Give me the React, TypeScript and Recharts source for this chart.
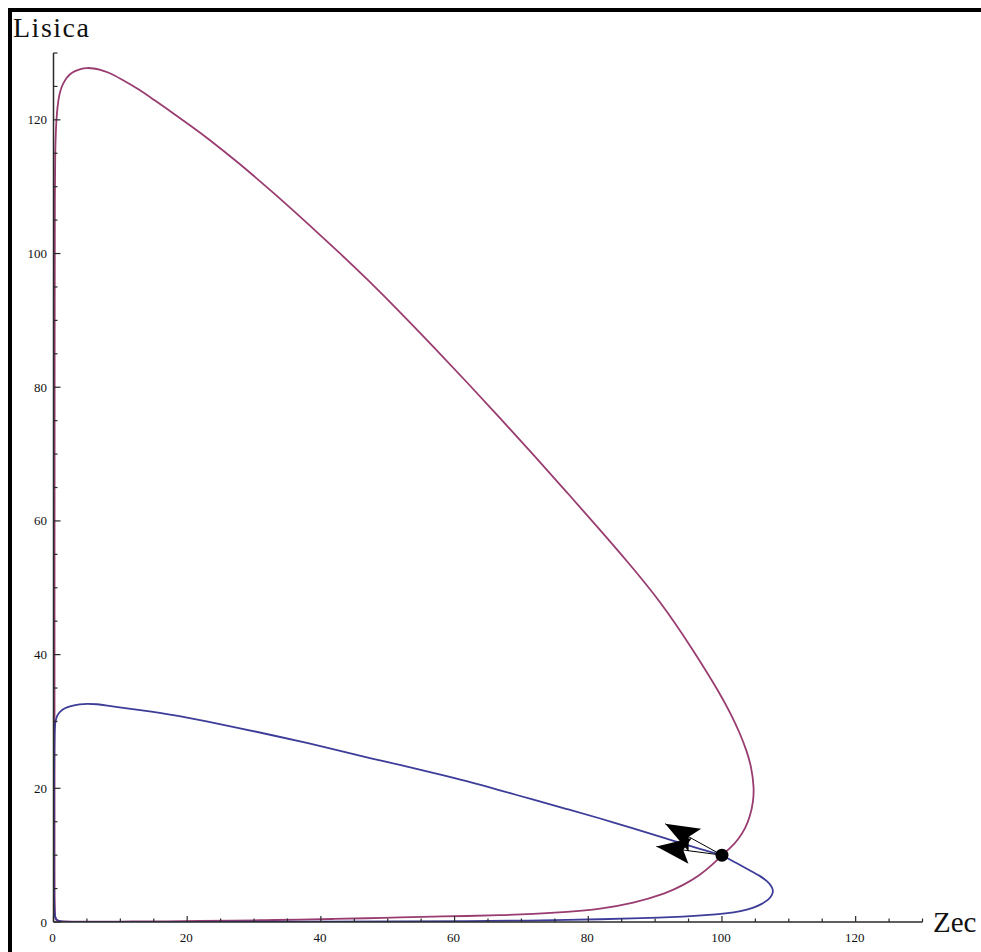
import {
  ComposedChart,
  Line,
  Scatter,
  XAxis,
  YAxis,
  Label,
} from "recharts";

// Phase portrait: foxes (Lisica) against rabbits (Zec), two orbits
// through the starting state (100, 10).

const AXIS_TICKS = [0, 5, 10, 15, 20, 25, 30, 35, 40, 45, 50, 55, 60, 65, 70, 75, 80, 85, 90, 95, 100, 105, 110, 115, 120, 125, 130];
const MAJOR_STEP = 20;
const LABEL_MAX = 120;

// big orbit (red)
const redOrbit = [
  { x: 100, y: 10 }, { x: 98.5, y: 8.5 }, { x: 96.7, y: 7.0 }, { x: 94.2, y: 5.5 },
  { x: 91.7, y: 4.3 }, { x: 86.7, y: 2.8 },
  { x: 81.8, y: 1.95 }, { x: 76.8, y: 1.5 }, { x: 71.8, y: 1.2 }, { x: 66.8, y: 1.0 },
  { x: 61.8, y: 0.9 }, { x: 56.8, y: 0.8 }, { x: 51.8, y: 0.7 }, { x: 46.8, y: 0.55 },
  { x: 41.8, y: 0.45 }, { x: 36.8, y: 0.35 }, { x: 31.8, y: 0.28 }, { x: 26.8, y: 0.2 },
  { x: 21.8, y: 0.15 }, { x: 16.8, y: 0.1 }, { x: 11.8, y: 0.07 }, { x: 6, y: 0.05 },
  { x: 2, y: 0.05 }, { x: 0.5, y: 0.1 }, { x: 0.2, y: 0.5 }, { x: 0.15, y: 3 },
  { x: 0.15, y: 40 }, { x: 0.17, y: 90 }, { x: 0.2, y: 110 }, { x: 0.25, y: 115 },
  { x: 0.35, y: 118.5 }, { x: 0.5, y: 121 }, { x: 0.72, y: 123 }, { x: 1.0, y: 124.3 },
  { x: 1.4, y: 125.4 }, { x: 1.97, y: 126.3 }, { x: 2.5, y: 126.9 }, { x: 3.2, y: 127.3 },
  { x: 4.0, y: 127.6 }, { x: 5.0, y: 127.8 }, { x: 6.0, y: 127.7 }, { x: 7.0, y: 127.5 },
  { x: 8.0, y: 127.2 }, { x: 10, y: 126.2 }, { x: 12.9, y: 124.5 }, { x: 15, y: 123.0 },
  { x: 17.9, y: 121 }, { x: 20.4, y: 119.2 }, { x: 22.9, y: 117.4 }, { x: 27.9, y: 113.4 },
  { x: 32.9, y: 109.1 }, { x: 37.9, y: 104.6 }, { x: 42.9, y: 100 }, { x: 46.9, y: 96.2 },
  { x: 51.8, y: 91.3 }, { x: 56.8, y: 86.1 }, { x: 61.8, y: 80.8 }, { x: 66.8, y: 75.4 },
  { x: 71.8, y: 69.9 }, { x: 76.8, y: 64.3 }, { x: 81.8, y: 58.6 }, { x: 85.7, y: 54.1 },
  { x: 90.7, y: 48.1 }, { x: 95.7, y: 40.7 }, { x: 99.7, y: 34.2 }, { x: 101.4, y: 31 },
  { x: 102.7, y: 28.2 }, { x: 103.7, y: 25.6 }, { x: 104.4, y: 23.2 }, { x: 104.8, y: 20.2 },
  { x: 104.7, y: 18 }, { x: 104.2, y: 15.8 }, { x: 103.5, y: 14 }, { x: 102.4, y: 12.3 },
  { x: 101.3, y: 11.1 }, { x: 100, y: 10 },
];

// small orbit (blue)
const blueOrbit = [
  { x: 100, y: 10 }, { x: 102.2, y: 8.8 }, { x: 104.2, y: 7.7 }, { x: 105.7, y: 6.9 },
  { x: 106.8, y: 6.1 }, { x: 107.4, y: 5.4 }, { x: 107.7, y: 4.7 }, { x: 107.5, y: 4.0 },
  { x: 107.0, y: 3.35 }, { x: 105.9, y: 2.65 }, { x: 104.7, y: 2.1 }, { x: 102.8, y: 1.6 },
  { x: 100.7, y: 1.3 }, { x: 97.5, y: 1.0 }, { x: 94.2, y: 0.8 }, { x: 90.5, y: 0.65 },
  { x: 86.7, y: 0.55 },
  { x: 81.8, y: 0.4 }, { x: 76.8, y: 0.3 }, { x: 71.8, y: 0.22 }, { x: 61.8, y: 0.14 },
  { x: 51.8, y: 0.09 }, { x: 40, y: 0.06 }, { x: 20, y: 0.03 }, { x: 5, y: 0.02 },
  { x: 0.5, y: 0.03 }, { x: 0.06, y: 0.5 }, { x: 0.05, y: 10 }, { x: 0.08, y: 22 },
  { x: 0.12, y: 26.2 }, { x: 0.16, y: 28.3 }, { x: 0.22, y: 29.7 }, { x: 0.5, y: 30.9 },
  { x: 0.97, y: 31.5 }, { x: 1.7, y: 32.0 }, { x: 2.5, y: 32.3 }, { x: 4.0, y: 32.6 },
  { x: 5.0, y: 32.65 }, { x: 6.5, y: 32.6 }, { x: 7.96, y: 32.4 }, { x: 10, y: 32.1 },
  { x: 12.9, y: 31.7 }, { x: 17.9, y: 31.0 }, { x: 22.9, y: 30.0 }, { x: 27.9, y: 29.0 },
  { x: 32.9, y: 27.9 }, { x: 37.9, y: 26.8 }, { x: 42.9, y: 25.6 }, { x: 47.8, y: 24.4 },
  { x: 51.8, y: 23.5 }, { x: 56.8, y: 22.3 }, { x: 61.8, y: 21.1 }, { x: 66.8, y: 19.7 },
  { x: 71.8, y: 18.3 }, { x: 76.8, y: 16.9 }, { x: 81.8, y: 15.5 }, { x: 86.7, y: 14.0 },
  { x: 91.7, y: 12.5 }, { x: 96, y: 11.1 }, { x: 100, y: 10 },
];

const startPoint = [{ x: 100, y: 10 }];

// direction arrows leaving the start point
const arrowUpper = [{ x: 100, y: 10 }, { x: 91.5, y: 14.7 }];
const arrowLower = [{ x: 100, y: 10 }, { x: 90.2, y: 11.3 }];
const arrowTips = [
  { x: 91.5, y: 14.7, dx: -8.5, dy: 4.7 },
  { x: 90.2, y: 11.3, dx: -9.8, dy: 1.3 },
];

const RED = "#993d71";
const BLUE = "#3d3d99";
const AXIS = "#2a2a2a";
const FONT = "'Liberation Serif', 'Times New Roman', serif";

function XTick(props: any) {
  const { x, y, payload } = props;
  const v = payload.value as number;
  const major = v % MAJOR_STEP === 0;
  return (
    <g>
      <line x1={x} x2={x} y1={y} y2={y - (major ? 6 : 3.5)} stroke={AXIS} strokeWidth={1.2} />
      {major && v <= LABEL_MAX && (
        <text x={x - 1} y={y + 20} textAnchor="middle" fontFamily={FONT} fontSize={13} fill="#111">
          {v}
        </text>
      )}
    </g>
  );
}

function YTick(props: any) {
  const { x, y, payload } = props;
  const v = payload.value as number;
  const major = v % MAJOR_STEP === 0;
  return (
    <g>
      <line x1={x} x2={x + (major ? 7 : 4)} y1={y} y2={y} stroke={AXIS} strokeWidth={1.2} />
      {major && v <= LABEL_MAX && (
        <text x={x - 6.5} y={y + 4.5} textAnchor="end" fontFamily={FONT} fontSize={13} fill="#111">
          {v}
        </text>
      )}
    </g>
  );
}

function StartDot(props: any) {
  return <circle cx={props.cx} cy={props.cy} r={6.5} fill="#000" />;
}

// swallow-tail arrowhead, tip at the data point
function ArrowHead(props: any) {
  const { cx, cy, payload } = props;
  const angle = (Math.atan2(-payload.dy, payload.dx) * 180) / Math.PI;
  return (
    <path
      d="M0,0 L-34,-13 L-27,0 L-34,13 Z"
      transform={`translate(${cx},${cy}) rotate(${angle})`}
      fill="#000"
    />
  );
}

export default function App() {
  return (
    <div style={{ position: "absolute", left: 0, top: 0, width: 981, height: 952, background: "#fff" }}>
      <div style={{ position: "absolute", left: 8, top: 8, width: 4, height: 944, background: "#000" }} />
      <div style={{ position: "absolute", left: 8, top: 8, width: 973, height: 4, background: "#000" }} />
      <div style={{ position: "absolute", left: 0, top: 0 }}>
        <ComposedChart width={981} height={952} margin={{ top: 53, right: 58.5, left: 0, bottom: 0 }}>
          <XAxis
            type="number"
            dataKey="x"
            domain={[0, 130]}
            ticks={AXIS_TICKS}
            interval={0}
            allowDataOverflow
            height={30}
            tickSize={0}
            tickMargin={0}
            tickLine={false}
            tick={<XTick />}
            axisLine={{ stroke: AXIS, strokeWidth: 1.5 }}
          >
            <Label
              content={(p: any) => {
                const vb = p.viewBox || { x: 53.5, y: 922, width: 869 };
                return (
                  <text x={vb.x + vb.width + 10.5} y={vb.y + 10} fontFamily={FONT} fontSize={29} fill="#111">
                    Zec
                  </text>
                );
              }}
            />
          </XAxis>
          <YAxis
            type="number"
            dataKey="y"
            domain={[0, 130]}
            ticks={AXIS_TICKS}
            interval={0}
            allowDataOverflow
            width={53.5}
            tickSize={0}
            tickMargin={0}
            tickLine={false}
            tick={<YTick />}
            axisLine={{ stroke: AXIS, strokeWidth: 1.5 }}
          >
            <Label
              content={(p: any) => {
                const vb = p.viewBox || { x: 0, y: 53 };
                return (
                  <text x={vb.x + 13} y={vb.y - 16} fontFamily={FONT} fontSize={28} letterSpacing={1.5} fill="#111">
                    Lisica
                  </text>
                );
              }}
            />
          </YAxis>
          <Line data={redOrbit} dataKey="y" type="basis" stroke={RED} strokeWidth={1.8} dot={false} isAnimationActive={false} />
          <Line data={blueOrbit} dataKey="y" type="basis" stroke={BLUE} strokeWidth={1.8} dot={false} isAnimationActive={false} />
          <Line data={arrowUpper} dataKey="y" type="linear" stroke="#000" strokeWidth={1} dot={false} isAnimationActive={false} />
          <Line data={arrowLower} dataKey="y" type="linear" stroke="#000" strokeWidth={1} dot={false} isAnimationActive={false} />
          <Scatter data={arrowTips} dataKey="y" shape={<ArrowHead />} isAnimationActive={false} />
          <Scatter data={startPoint} dataKey="y" shape={<StartDot />} isAnimationActive={false} />
        </ComposedChart>
      </div>
    </div>
  );
}
